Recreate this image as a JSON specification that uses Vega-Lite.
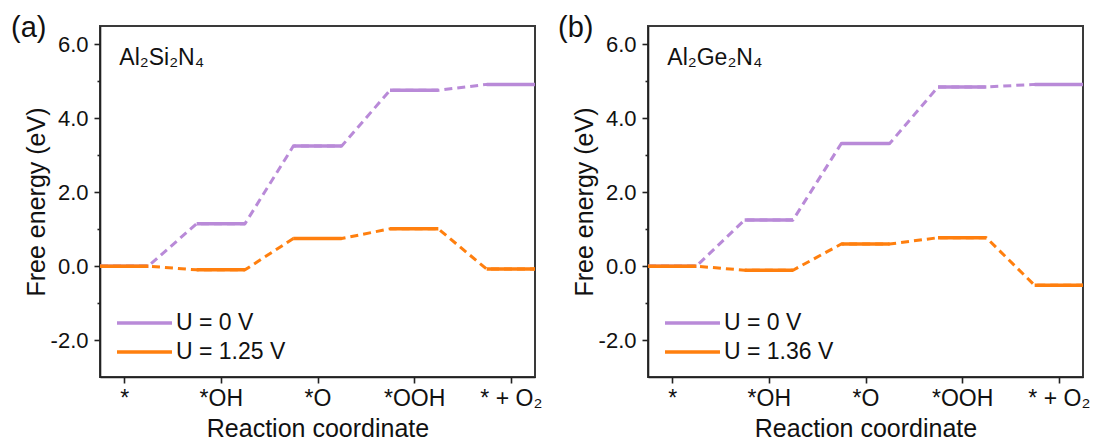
{
  "$schema": "https://vega.github.io/schema/vega-lite/v6.json",
  "padding": {"left": 10, "top": 13, "right": 0, "bottom": 0},
  "background": "white",
  "bounds": "flush",
  "spacing": 113,
  "datasets": {
    "a": [
      {"U": "U = 0 V", "step": 1, "lo": 0.75, "hi": 1.25, "G": 0},
      {"U": "U = 0 V", "step": 2, "lo": 1.75, "hi": 2.25, "G": 1.15},
      {"U": "U = 0 V", "step": 3, "lo": 2.75, "hi": 3.25, "G": 3.25},
      {"U": "U = 0 V", "step": 4, "lo": 3.75, "hi": 4.25, "G": 4.76},
      {"U": "U = 0 V", "step": 5, "lo": 4.75, "hi": 5.25, "G": 4.92},
      {"U": "U = 1.25 V", "step": 1, "lo": 0.75, "hi": 1.25, "G": 0},
      {"U": "U = 1.25 V", "step": 2, "lo": 1.75, "hi": 2.25, "G": -0.1},
      {"U": "U = 1.25 V", "step": 3, "lo": 2.75, "hi": 3.25, "G": 0.75},
      {"U": "U = 1.25 V", "step": 4, "lo": 3.75, "hi": 4.25, "G": 1.01},
      {"U": "U = 1.25 V", "step": 5, "lo": 4.75, "hi": 5.25, "G": -0.08}
    ],
    "b": [
      {"U": "U = 0 V", "step": 1, "lo": 0.75, "hi": 1.25, "G": 0},
      {"U": "U = 0 V", "step": 2, "lo": 1.75, "hi": 2.25, "G": 1.25},
      {"U": "U = 0 V", "step": 3, "lo": 2.75, "hi": 3.25, "G": 3.32},
      {"U": "U = 0 V", "step": 4, "lo": 3.75, "hi": 4.25, "G": 4.85},
      {"U": "U = 0 V", "step": 5, "lo": 4.75, "hi": 5.25, "G": 4.92},
      {"U": "U = 1.36 V", "step": 1, "lo": 0.75, "hi": 1.25, "G": 0},
      {"U": "U = 1.36 V", "step": 2, "lo": 1.75, "hi": 2.25, "G": -0.11},
      {"U": "U = 1.36 V", "step": 3, "lo": 2.75, "hi": 3.25, "G": 0.6},
      {"U": "U = 1.36 V", "step": 4, "lo": 3.75, "hi": 4.25, "G": 0.77},
      {"U": "U = 1.36 V", "step": 5, "lo": 4.75, "hi": 5.25, "G": -0.52}
    ]
  },
  "resolve": {"scale": {"color": "independent", "x": "independent", "y": "independent"}},
  "hconcat": [
    {
      "width": 435,
      "height": 351,
      "title": {"text": "(a)", "anchor": "start", "frame": "group", "fontSize": 29, "fontWeight": "normal", "dx": -89, "offset": -40, "baseline": "alphabetic", "color": "#111"},
      "data": {"name": "a"},
      "resolve": {"axis": {"y": "independent"}},
      "layer": [
        {
          "transform": [{"fold": ["lo", "hi"], "as": ["end", "xc"]}],
          "mark": {"type": "line", "strokeDash": [8, 5], "strokeWidth": 3},
          "encoding": {
            "x": {"field": "xc", "type": "quantitative", "scale": {"domain": [0.75, 5.25], "nice": false, "zero": false},
              "axis": {"values": [1, 2, 3, 4, 5], "labelExpr": "['*','*OH','*O','*OOH','* + O₂'][datum.value-1]", "title": "Reaction coordinate", "tickSize": 6, "labelPadding": 4, "labelFontSize": 23, "titleFontSize": 25, "titlePadding": 6}},
            "y": {"field": "G", "type": "quantitative", "scale": {"domain": [-3, 6.5], "nice": false, "zero": false},
              "axis": {"values": [-2, 0, 2, 4, 6], "labelExpr": "datum.value < 0 ? '-' + format(-datum.value, '.1f') : format(datum.value, '.1f')", "title": "Free energy (eV)", "tickSize": 6, "labelPadding": 6, "labelFontSize": 22, "titleFontSize": 25, "titlePadding": 1}},
            "color": {"field": "U", "type": "nominal", "scale": {"domain": ["U = 0 V", "U = 1.25 V"], "range": ["#B98AD8", "#FF7F0E"]},
              "legend": {"orient": "bottom-left", "offset": 13, "title": null, "symbolType": "M-0.82,0L4.18,0", "symbolSize": 484, "symbolStrokeWidth": 3.5, "symbolDash": [1, 0], "labelFontSize": 23, "labelOffset": 37, "rowPadding": 4, "padding": 0}},
            "order": {"field": "xc", "type": "quantitative"}
          }
        },
        {
          "mark": {"type": "rule", "strokeWidth": 3.5},
          "encoding": {
            "x": {"field": "lo", "type": "quantitative"},
            "x2": {"field": "hi"},
            "y": {"field": "G", "type": "quantitative", "axis": null},
            "color": {"field": "U", "type": "nominal"}
          }
        },
        {
          "data": {"values": [{"tx": 0.95, "ty": 5.45, "t": "Al₂Si₂N₄"}]},
          "mark": {"type": "text", "align": "left", "baseline": "alphabetic", "fontSize": 23, "color": "#111"},
          "encoding": {
            "x": {"field": "tx", "type": "quantitative"},
            "y": {"field": "ty", "type": "quantitative", "axis": {"values": [-1, 1, 3, 5], "labels": false, "domain": false, "tickSize": 3, "title": null, "orient": "left"}},
            "text": {"field": "t"}
          }
        }
      ]
    },
    {
      "width": 435,
      "height": 351,
      "title": {"text": "(b)", "anchor": "start", "frame": "group", "fontSize": 29, "fontWeight": "normal", "dx": -90, "offset": -40, "baseline": "alphabetic", "color": "#111"},
      "data": {"name": "b"},
      "resolve": {"axis": {"y": "independent"}},
      "layer": [
        {
          "transform": [{"fold": ["lo", "hi"], "as": ["end", "xc"]}],
          "mark": {"type": "line", "strokeDash": [8, 5], "strokeWidth": 3},
          "encoding": {
            "x": {"field": "xc", "type": "quantitative", "scale": {"domain": [0.75, 5.25], "nice": false, "zero": false},
              "axis": {"values": [1, 2, 3, 4, 5], "labelExpr": "['*','*OH','*O','*OOH','* + O₂'][datum.value-1]", "title": "Reaction coordinate", "tickSize": 6, "labelPadding": 4, "labelFontSize": 23, "titleFontSize": 25, "titlePadding": 6}},
            "y": {"field": "G", "type": "quantitative", "scale": {"domain": [-3, 6.5], "nice": false, "zero": false},
              "axis": {"values": [-2, 0, 2, 4, 6], "labelExpr": "datum.value < 0 ? '-' + format(-datum.value, '.1f') : format(datum.value, '.1f')", "title": "Free energy (eV)", "tickSize": 6, "labelPadding": 6, "labelFontSize": 22, "titleFontSize": 25, "titlePadding": 1}},
            "color": {"field": "U", "type": "nominal", "scale": {"domain": ["U = 0 V", "U = 1.36 V"], "range": ["#B98AD8", "#FF7F0E"]},
              "legend": {"orient": "bottom-left", "offset": 13, "title": null, "symbolType": "M-0.82,0L4.18,0", "symbolSize": 484, "symbolStrokeWidth": 3.5, "symbolDash": [1, 0], "labelFontSize": 23, "labelOffset": 37, "rowPadding": 4, "padding": 0}},
            "order": {"field": "xc", "type": "quantitative"}
          }
        },
        {
          "mark": {"type": "rule", "strokeWidth": 3.5},
          "encoding": {
            "x": {"field": "lo", "type": "quantitative"},
            "x2": {"field": "hi"},
            "y": {"field": "G", "type": "quantitative", "axis": null},
            "color": {"field": "U", "type": "nominal"}
          }
        },
        {
          "data": {"values": [{"tx": 0.95, "ty": 5.45, "t": "Al₂Ge₂N₄"}]},
          "mark": {"type": "text", "align": "left", "baseline": "alphabetic", "fontSize": 23, "color": "#111"},
          "encoding": {
            "x": {"field": "tx", "type": "quantitative"},
            "y": {"field": "ty", "type": "quantitative", "axis": {"values": [-1, 1, 3, 5], "labels": false, "domain": false, "tickSize": 3, "title": null, "orient": "left"}},
            "text": {"field": "t"}
          }
        }
      ]
    }
  ],
  "config": {
    "font": "Liberation Sans",
    "view": {"stroke": "#3a3a3a", "strokeWidth": 2},
    "axis": {"grid": false, "domainColor": "#222", "domainWidth": 1.6, "tickColor": "#222", "tickWidth": 1.6, "labelColor": "#111", "titleColor": "#111", "labelFont": "Liberation Sans", "titleFont": "Liberation Sans", "titleFontWeight": "normal"},
    "legend": {"labelFont": "Liberation Sans", "labelColor": "#111"}
  }
}
